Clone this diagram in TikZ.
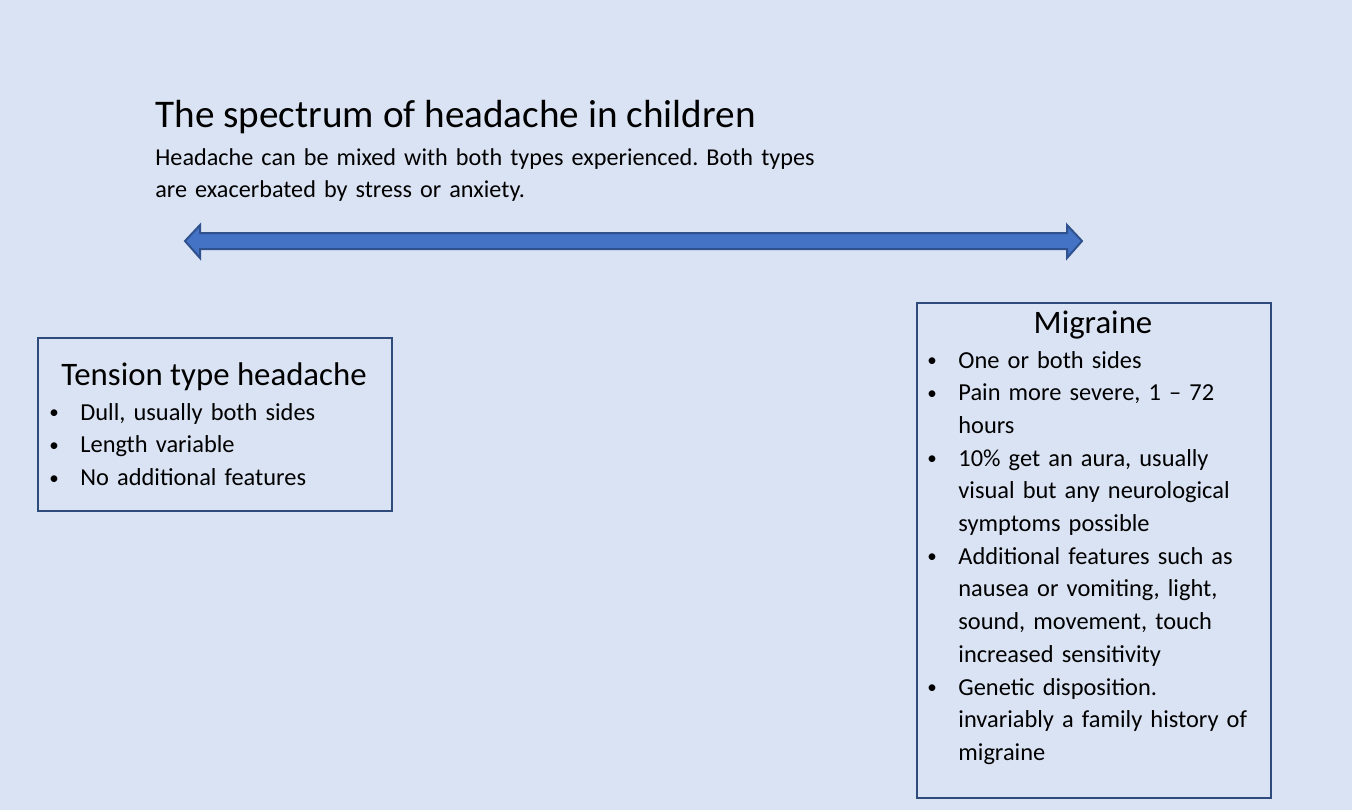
\documentclass[tikz,border=0pt]{standalone}
\usepackage{fontspec}
\setmainfont{Carlito}
\usepackage{xcolor}
\usepackage{tikz}
\definecolor{cbg}{HTML}{DAE3F3}
\definecolor{carrow}{HTML}{4472C4}
\definecolor{cedge}{HTML}{2F528F}
\definecolor{cframe}{HTML}{2F4B7C}

\newcommand{\bitem}[1]{\noindent\hangindent=16.5pt\hangafter=1%
	\makebox[16.5pt][l]{\hspace{1pt}\raisebox{0.7pt}{\fontsize{9.5}{9.5}\selectfont\textbullet}}#1\par}

\tikzset{
	panel/.style={draw=cframe, line width=1pt, inner sep=0pt, anchor=north west},
	heading/.style={inner sep=0pt, anchor=base, font=\fontsize{16.4}{19}\selectfont},
	listtext/.style={inner sep=0pt, anchor=base west, text width=200pt,
		font=\fontsize{12.2}{16.35}\selectfont\frenchspacing},
}

\begin{document}
\begin{tikzpicture}[x=0.5pt, y=-0.5pt]
			\fill[cbg] (0,0) rectangle (1352,810);
			\useasboundingbox (0,0) rectangle (1352,810);

			\node[inner sep=0pt, anchor=base west, font=\fontsize{19.6}{23}\selectfont] (title) at (155,127) {The spectrum of headache in children};
			\node[inner sep=0pt, anchor=base west, text width=400pt, align=left, font=\fontsize{12.1}{16.4}\selectfont\frenchspacing] (intro) at (155,165)
				{Headache can be mixed with both types experienced. Both types\\are exacerbated by stress or anxiety.};

			\draw[cedge, fill=carrow, line width=1pt, line join=miter]
				(185,241) -- (200,225) -- (200,233) -- (1067,233) -- (1067,225) -- (1082,241)
				-- (1067,258) -- (1067,249) -- (200,249) -- (200,258) -- cycle;

			\node[panel, minimum width=177pt, minimum height=86.5pt] (tthbox) at (37,337) {};
			\node[heading] (tthhead) at (214,385) {Tension type headache};
			\node[listtext] (tthlist) at (47,420) {%
				\bitem{Dull, usually both sides}%
				\bitem{Length variable}%
				\bitem{No additional features}};

			\node[panel, minimum width=177pt, minimum height=247.5pt] (migbox) at (916,302) {};
			\node[heading] (mighead) at (1093,333) {Migraine};
			\node[listtext] (miglist) at (925,368) {%
				\bitem{One or both sides}%
				\bitem{Pain more severe, 1 – 72\newline hours}%
				\bitem{10\% get an aura, usually\newline visual but any neurological\newline symptoms possible}%
				\bitem{Additional features such as\newline nausea or vomiting, light,\newline sound, movement, touch\newline increased sensitivity}%
				\bitem{Genetic disposition.\newline invariably a family history of\newline migraine}};
		\end{tikzpicture}
\end{document}
